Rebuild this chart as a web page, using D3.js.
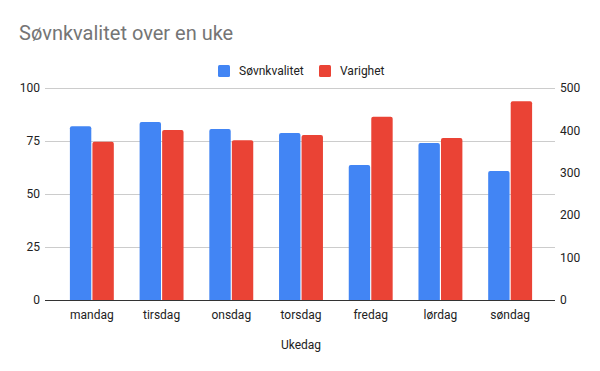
<!DOCTYPE html>
<html>
<head>
<meta charset="utf-8">
<script src="https://cdn.jsdelivr.net/npm/d3@7"></script>
<style>
  body { margin: 0; background: #fff; }
  text { font-family: Roboto, Arial, sans-serif; }
</style>
</head>
<body>
<svg></svg>
<script>
const days = ["mandag", "tirsdag", "onsdag", "torsdag", "fredag", "lørdag", "søndag"];
const sovnkvalitet = [82, 84, 80.7, 78.8, 63.7, 74, 60.8];
const varighet = [373, 401, 377, 389, 432, 382, 469];
const leftTicks = [0, 25, 50, 75, 100];
const rightTicks = [0, 100, 200, 300, 400, 500];

const width = 600;
const height = 371;

const svg = d3.select("svg")
  .attr("width", width)
  .attr("height", height);

const x = d3.scaleBand().domain(days).range([57, 545]).paddingInner(0.37).paddingOuter(0.185);
const sub = d3.scaleBand().domain(["s", "v"]).range([0, x.bandwidth()]).paddingInner(0.05);
const yL = d3.scaleLinear().domain([0, 100]).range([300, 88]);
const yR = d3.scaleLinear().domain([0, 500]).range([300, 88]);

// gridlines
svg.append("g")
  .selectAll("line")
  .data(leftTicks.slice(1))
  .join("line")
  .attr("x1", 45)
  .attr("x2", 555)
  .attr("y1", (d) => yL(d) + 0.5)
  .attr("y2", (d) => yL(d) + 0.5)
  .attr("stroke", "#cccccc");

// bar with rounded top
const barPath = (x0, w, yTop, yBase) => {
  const r = Math.min(2, w / 2, yBase - yTop);
  return `M${x0},${yBase}V${yTop + r}Q${x0},${yTop} ${x0 + r},${yTop}H${x0 + w - r}Q${x0 + w},${yTop} ${x0 + w},${yTop + r}V${yBase}Z`;
};

const groups = svg.append("g")
  .selectAll("g")
  .data(days)
  .join("g")
  .attr("transform", (d) => `translate(${x(d)},0)`);

groups.append("path")
  .attr("fill", "#4285f4")
  .attr("d", (d, i) => barPath(sub("s"), sub.bandwidth(), yL(sovnkvalitet[i]), yL(0)));

groups.append("path")
  .attr("fill", "#ea4335")
  .attr("d", (d, i) => barPath(sub("v"), sub.bandwidth(), yR(varighet[i]), yR(0)));

// baseline
svg.append("line")
  .attr("x1", 45)
  .attr("x2", 555)
  .attr("y1", 300.5)
  .attr("y2", 300.5)
  .attr("stroke", "#333333");

// left axis labels
svg.append("g")
  .selectAll("text")
  .data(leftTicks)
  .join("text")
  .attr("x", 40)
  .attr("y", (d) => yL(d))
  .attr("dy", "0.35em")
  .attr("text-anchor", "end")
  .attr("font-size", 12)
  .attr("fill", "#222")
  .text((d) => d);

// right axis labels
svg.append("g")
  .selectAll("text")
  .data(rightTicks)
  .join("text")
  .attr("x", 560)
  .attr("y", (d) => yR(d))
  .attr("dy", "0.35em")
  .attr("text-anchor", "start")
  .attr("font-size", 12)
  .attr("fill", "#222")
  .text((d) => d);

// x labels
svg.append("g")
  .selectAll("text")
  .data(days)
  .join("text")
  .attr("x", (d) => x(d) + x.bandwidth() / 2)
  .attr("y", 319)
  .attr("text-anchor", "middle")
  .attr("font-size", 12)
  .attr("fill", "#222")
  .text((d) => d);

svg.append("text")
  .attr("x", 301)
  .attr("y", 349)
  .attr("text-anchor", "middle")
  .attr("font-size", 12)
  .attr("fill", "#222")
  .text("Ukedag");

// title
svg.append("text")
  .attr("x", 19)
  .attr("y", 40)
  .attr("font-size", 20)
  .attr("fill", "#757575")
  .text("Søvnkvalitet over en uke");

// legend
const legend = [
  { name: "Søvnkvalitet", color: "#4285f4", x: 218 },
  { name: "Varighet", color: "#ea4335", x: 319 }
];
const lg = svg.append("g")
  .selectAll("g")
  .data(legend)
  .join("g")
  .attr("transform", (d) => `translate(${d.x},65)`);
lg.append("rect")
  .attr("width", 12)
  .attr("height", 12)
  .attr("rx", 1.5)
  .attr("fill", (d) => d.color);
lg.append("text")
  .attr("x", 21)
  .attr("y", 6)
  .attr("dy", "0.35em")
  .attr("font-size", 12)
  .attr("fill", "#222")
  .text((d) => d.name);
</script>
</body>
</html>
